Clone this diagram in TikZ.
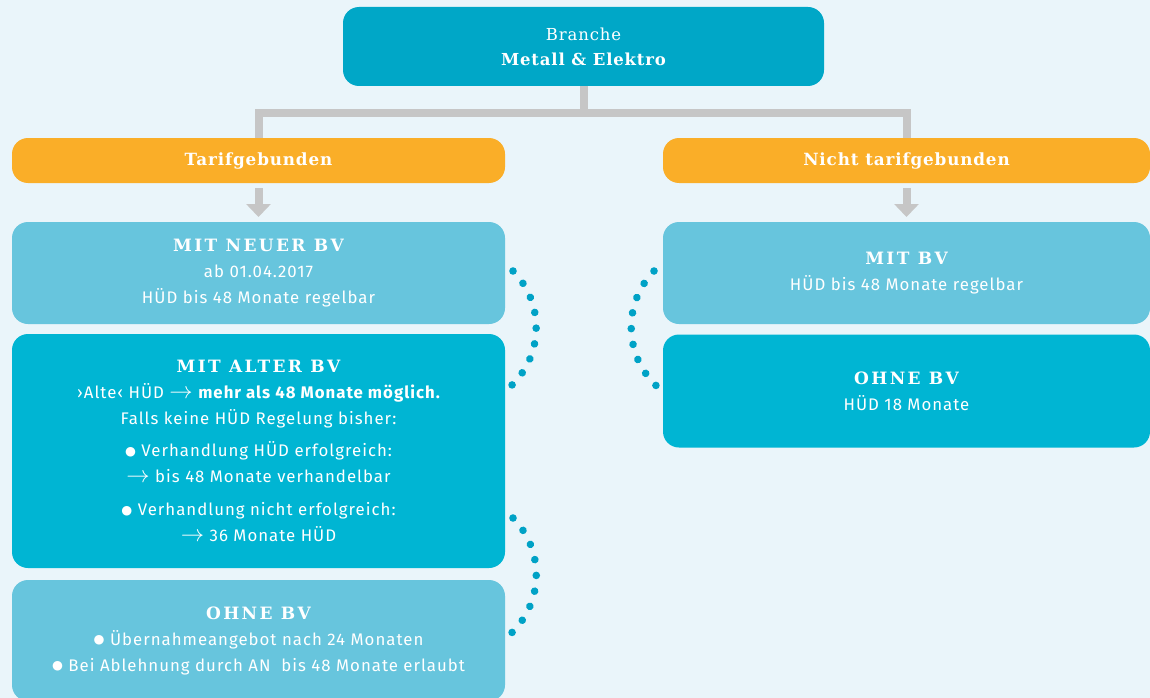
\documentclass[tikz,border=0pt]{standalone}
\usepackage{fontspec}
\setmainfont{Fira Sans}
\newfontfamily\bodyfont[LetterSpace=6]{Fira Sans}
\newfontfamily\headfont[LetterSpace=5]{DejaVu Serif}
\newfontfamily\capsfont[LetterSpace=14]{DejaVu Serif}
\newfontfamily\symfont{DejaVu Sans}
\usetikzlibrary{arrows.meta,calc,decorations.markings}

\definecolor{hgrund}{HTML}{EAF5FA}
\definecolor{kopfblau}{HTML}{00A7C7}
\definecolor{tarifgelb}{HTML}{FAAE28}
\definecolor{hellblau}{HTML}{67C5DD}
\definecolor{dunkelblau}{HTML}{00B5D3}
\definecolor{verbgrau}{HTML}{C6C6C6}
\definecolor{punktblau}{HTML}{00A2C6}

\newcommand{\bul}{\raisebox{1.5pt}{\symfont\fontsize{12.5}{12}\selectfont ●}}
\newcommand{\pfeil}{\scalebox{1.35}{$\rightarrow$}}
\newcommand{\titelzeile}[1]{{\capsfont\bfseries\fontsize{17}{18}\selectfont #1}}

\tikzset{
  kasten/.style={rounded corners=16pt, inner sep=0pt, outer sep=0pt, text=white,
    align=center, font=\bodyfont\fontsize{16.8}{26}\selectfont},
  stufe/.style={kasten, fill=tarifgelb, minimum height=45pt,
    font=\headfont\bfseries\fontsize{16.8}{18}\selectfont},
  verbindung/.style={draw=verbgrau, line width=8pt},
  grauerpfeil/.style={draw=verbgrau, line width=8pt, -{Triangle[width=24pt,length=13pt]}},
  punktbogen/.style={decoration={markings,
      mark=between positions 0 and 1 step 0.1249 with {\fill[punktblau] (0,0) circle (3.8pt);}},
    decorate}
}

\begin{document}
\begin{tikzpicture}[x=1pt, y=-1pt]
  % Hintergrund
  \fill[hgrund] (0,0) rectangle (1150,698);
  \useasboundingbox (0,0) rectangle (1150,698);

  % Branche
  \node[kasten, fill=kopfblau, minimum width=481pt, minimum height=79pt,
    font=\headfont\fontsize{16.5}{25}\selectfont] (branche) at (583.5,46.5)
    {Branche\\ \bfseries Metall \& Elektro};

  % Tarifbindung
  \node[stufe, minimum width=493pt] (tarif) at (258.5,160.5) {Tarifgebunden};
  \node[stufe, minimum width=487pt] (nicht) at (906.5,160.5) {Nicht tarifgebunden};

  % Verbindungen
  \coordinate (steg) at (583,113);
  \draw[verbindung] (branche.south) -- (branche.south |- steg);
  \draw[verbindung] (tarif.north) -- (tarif.north |- steg) -- (nicht.north |- steg) -- (nicht.north);

  % linke Spalte
  \node[kasten, fill=hellblau, minimum width=493pt, minimum height=102pt] (neu) at (258.5,273)
    {\titelzeile{MIT NEUER BV}\\
     ab 01.04.2017\\
     HÜD bis 48 Monate regelbar};
  \node[kasten, fill=dunkelblau, minimum width=493pt, minimum height=234pt] (alt) at (258.5,451)
    {\titelzeile{MIT ALTER BV}\\
     ›Alte‹ HÜD \pfeil{} {\bfseries mehr als 48 Monate möglich.}\\
     Falls keine HÜD Regelung bisher:\\[6pt]
     \bul{} Verhandlung HÜD erfolgreich:\\
     \pfeil{} bis 48 Monate verhandelbar\\[7pt]
     \bul{} Verhandlung nicht erfolgreich:\\
     \pfeil{} 36 Monate HÜD};
  \node[kasten, fill=hellblau, minimum width=493pt, minimum height=121pt] (ohne) at (258.5,640.5)
    {\titelzeile{OHNE BV}\\
     \bul{} Übernahmeangebot nach 24 Monaten\\
     \bul{} Bei Ablehnung durch AN~ bis 48 Monate erlaubt};

  % rechte Spalte
  \node[kasten, fill=hellblau, minimum width=487pt, minimum height=102pt] (mitbv) at (906.5,273)
    {\titelzeile{MIT BV}\\
     HÜD bis 48 Monate regelbar};
  \node[kasten, fill=dunkelblau, minimum width=487pt, minimum height=113pt] (ohnebv) at (906.5,391)
    {\titelzeile{OHNE BV}\\
     HÜD 18 Monate};

  % Pfeile
  \draw[grauerpfeil] ([yshift=-5pt]tarif.south) -- ([yshift=5pt]neu.north);
  \draw[grauerpfeil] ([yshift=-5pt]nicht.south) -- ([yshift=5pt]mitbv.north);

  % Punktboegen
  \path[punktbogen] ($(neu.east)+(8,-2)$) to[bend left=45] ($(alt.north east)+(7,51)$);
  \path[punktbogen] ($(alt.south east)+(8,-50)$) to[bend left=45] ($(ohne.east)+(7,-8)$);
  \path[punktbogen] ($(mitbv.west)+(-9,-2)$) to[bend right=45] ($(ohnebv.north west)+(-7,51)$);
\end{tikzpicture}
\end{document}
